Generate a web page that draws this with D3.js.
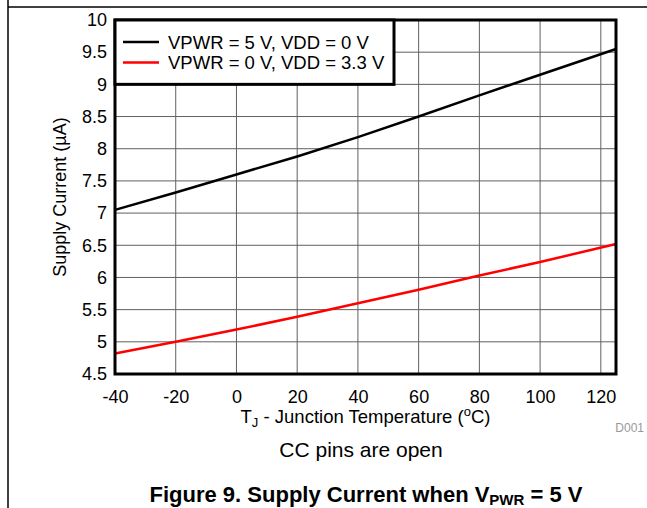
<!DOCTYPE html>
<html><head><meta charset="utf-8">
<script src="https://cdn.jsdelivr.net/npm/d3@7"></script>
<style>body{margin:0;background:#fff}svg{display:block}text{font-family:"Liberation Sans",Arial,sans-serif}</style>
</head><body><svg id="c" width="647" height="508"></svg>
<script>
const temps = [-40, -20, 0, 20, 40, 60, 80, 100, 125];
const vpwr5 = [7.05, 7.32, 7.6, 7.88, 8.18, 8.5, 8.83, 9.15, 9.55];
const vdd33 = [4.82, 5.0, 5.19, 5.39, 5.6, 5.81, 6.03, 6.24, 6.52];
const xTicks = [-40, -20, 0, 20, 40, 60, 80, 100, 120];
const yTicks = [4.5, 5, 5.5, 6, 6.5, 7, 7.5, 8, 8.5, 9, 9.5, 10];
const seriesNames = ["VPWR = 5 V, VDD = 0 V", "VPWR = 0 V, VDD = 3.3 V"];
const seriesColors = ["#000000", "#ff0000"];

const svg = d3.select("#c");
const L = 115, R = 616, T = 20, B = 374;
const x = d3.scaleLinear().domain([-40, 125]).range([L, R]);
const y = d3.scaleLinear().domain([4.5, 10]).range([B, T]);
const FF = '"Liberation Sans",Arial,sans-serif';

// page frame
svg.append("line").attr("x1", 8).attr("x2", 8).attr("y1", 0).attr("y2", 508).attr("stroke", "#000").attr("stroke-width", 1.5);
svg.append("line").attr("x1", 8).attr("x2", 647).attr("y1", 7).attr("y2", 7).attr("stroke", "#000").attr("stroke-width", 1.5);

// grid
const g = svg.append("g");
g.selectAll(".vg").data(xTicks).join("line")
  .attr("x1", d => x(d)).attr("x2", d => x(d)).attr("y1", T).attr("y2", B)
  .attr("stroke", "#606060").attr("stroke-width", 1);
g.selectAll(".hg").data(yTicks).join("line")
  .attr("x1", L).attr("x2", R).attr("y1", d => y(d)).attr("y2", d => y(d))
  .attr("stroke", "#606060").attr("stroke-width", 1);

// axes (labels only)
const xAxis = d3.axisBottom(x).tickValues(xTicks).tickSize(0).tickPadding(16).tickFormat(d => String(d));
const xg = svg.append("g").attr("transform", `translate(0,${B})`).call(xAxis);
xg.select(".domain").remove();
xg.selectAll("text").attr("font-size", 18).attr("fill", "#000").style("font-family", FF);

const yAxis = d3.axisLeft(y).tickValues(yTicks).tickSize(0).tickPadding(8).tickFormat(d => String(d));
const yg = svg.append("g").attr("transform", `translate(${L},0)`).call(yAxis);
yg.select(".domain").remove();
yg.selectAll("text").attr("font-size", 18).attr("fill", "#000").style("font-family", FF);

// lines
const line = d3.line().x((d, i) => x(temps[i])).y(d => y(d));
[vpwr5, vdd33].forEach((s, i) => {
  svg.append("path").datum(s).attr("d", line).attr("fill", "none")
    .attr("stroke", seriesColors[i]).attr("stroke-width", 2.5);
});

// plot border
svg.append("rect").attr("x", L).attr("y", T).attr("width", R - L).attr("height", B - T)
  .attr("fill", "none").attr("stroke", "#000").attr("stroke-width", 3);

// legend
const lg = svg.append("g");
lg.append("rect").attr("x", L).attr("y", y(10)).attr("width", 279).attr("height", y(9) - y(10))
  .attr("fill", "#fff").attr("stroke", "#000").attr("stroke-width", 3);
seriesNames.forEach((n, i) => {
  const yy = 42 + i * 20.5;
  lg.append("line").attr("x1", 123).attr("x2", 159).attr("y1", yy).attr("y2", yy)
    .attr("stroke", seriesColors[i]).attr("stroke-width", 2.5);
  lg.append("text").attr("x", 168).attr("y", yy + 6.5).attr("font-size", 18.5).text(n);
});

// y title
svg.append("text").attr("transform", `translate(66,${(T + B) / 2}) rotate(-90)`)
  .attr("text-anchor", "middle").attr("font-size", 18).text("Supply Current (\u00b5A)");

// x title
const xt = svg.append("text").attr("x", (L + R) / 2).attr("y", 423).attr("text-anchor", "middle").attr("font-size", 18.5);
xt.append("tspan").text("T");
xt.append("tspan").attr("font-size", 13).attr("dy", 4).text("J");
xt.append("tspan").attr("dy", -4).text(" - Junction Temperature (");
xt.append("tspan").attr("font-size", 13).attr("dy", -7).text("o");
xt.append("tspan").attr("dy", 7).text("C)");

svg.append("text").attr("x", 644).attr("y", 432).attr("text-anchor", "end").attr("font-size", 12).attr("fill", "#999").text("D001");

svg.append("text").attr("x", 361).attr("y", 457).attr("text-anchor", "middle").attr("font-size", 21).text("CC pins are open");

const cap = svg.append("text").attr("x", 366).attr("y", 502).attr("text-anchor", "middle").attr("font-size", 22).attr("font-weight", "bold");
cap.append("tspan").text("Figure 9. Supply Current when V");
cap.append("tspan").attr("font-size", 15).attr("dy", 3).text("PWR");
cap.append("tspan").attr("dy", -3).text(" = 5 V");
</script></body></html>
